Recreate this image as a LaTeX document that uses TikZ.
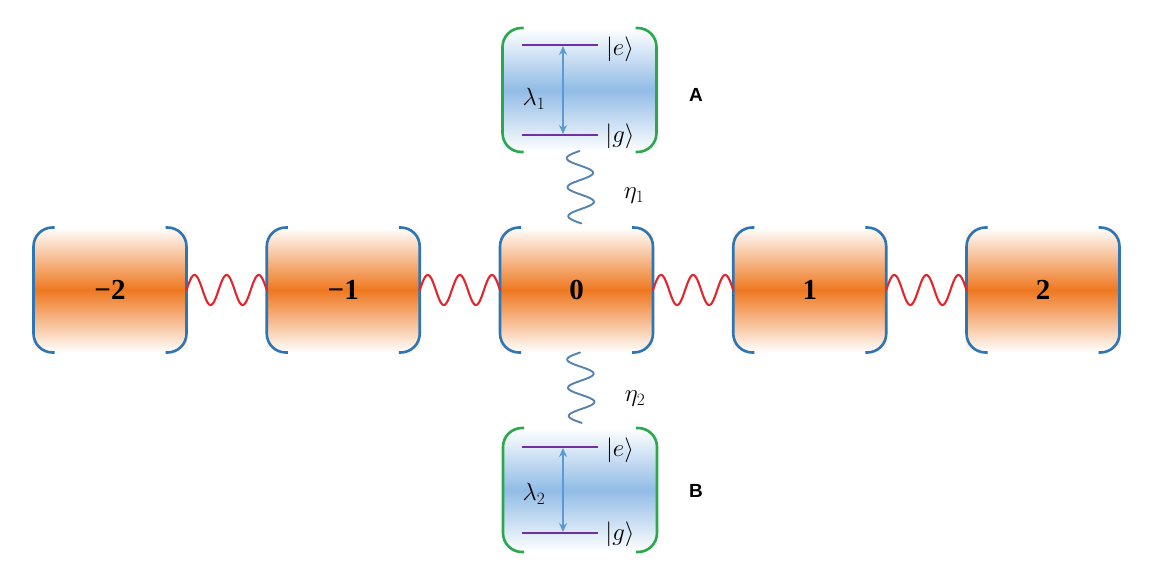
\documentclass[tikz,border=0pt]{standalone}
\usepackage{fontspec}
\setmainfont{Liberation Serif}
\newfontfamily\labsf{Liberation Sans}
\usetikzlibrary{arrows.meta,calc}
\definecolor{cavorange}{RGB}{238,120,32}
\definecolor{cavblue}{RGB}{46,117,182}
\definecolor{springred}{RGB}{226,38,44}
\definecolor{atomgreen}{RGB}{44,168,76}
\definecolor{atomblue}{RGB}{145,188,230}
\definecolor{levelpurple}{RGB}{112,48,160}
\definecolor{arrowblue}{RGB}{91,155,213}
\definecolor{vspringblue}{RGB}{85,130,175}
\tikzset{
  cav/.style={rectangle, inner sep=0pt, outer sep=0pt, minimum width=153pt, minimum height=125pt,
    top color=white, bottom color=white, middle color=cavorange,
    font=\fontsize{29}{33}\selectfont\bfseries},
  atombox/.style={rectangle, inner sep=0pt, outer sep=0pt, minimum width=154pt, minimum height=124pt,
    top color=white, bottom color=white, middle color=atomblue},
  cavbr/.style={draw=cavblue, line width=2.6pt, rounded corners=19pt},
  atombr/.style={draw=atomgreen, line width=2.6pt, rounded corners=19pt},
  hspr/.style={draw=springred, line width=2.1pt, line cap=round,
    to path={let \p1=(\tikztostart), \p2=(\tikztotarget) in
      -- plot[domain=0:1, samples=120, variable=\t, smooth]
      ({\x1+(\x2-\x1)*\t}, {\y1+(\y2-\y1)*\t+15*sin(900*\t)})}},
  vspr/.style={draw=vspringblue, line width=1.9pt, line cap=round,
    to path={let \p1=(\tikztostart), \p2=(\tikztotarget) in
      -- plot[domain=0:1, samples=120, variable=\t, smooth]
      ({\x1+(\x2-\x1)*\t-13*sin(900*\t)}, {\y1+(\y2-\y1)*\t})}},
  level/.style={draw=levelpurple, line width=2.2pt},
  trans/.style={draw=arrowblue, line width=2pt, {Stealth[length=9pt,width=8pt]}-{Stealth[length=9pt,width=8pt]}},
  mlabel/.style={inner sep=0pt, font=\fontsize{25}{29}\selectfont},
  letter/.style={inner sep=0pt, font=\labsf\fontsize{19}{22}\selectfont\bfseries},
}
\begin{document}
\begin{tikzpicture}[x=1pt,y=1pt]
\useasboundingbox (0,0) rectangle (1152,-573);
% cavities
\node[cav] (cm2) at (110,-290) {−2};
\node[cav] (cm1) at (343.25,-290) {−1};
\node[cav] (c0) at (576.5,-290) {0};
\node[cav] (c1) at (809.75,-290) {1};
\node[cav] (c2) at (1043,-290) {2};
\foreach \n in {cm2,cm1,c0,c1,c2}{
  \draw[cavbr] ([xshift=21pt]\n.north west) -- (\n.north west) -- (\n.south west) -- ([xshift=21pt]\n.south west);
  \draw[cavbr] ([xshift=-21pt]\n.north east) -- (\n.north east) -- (\n.south east) -- ([xshift=-21pt]\n.south east);
}
% springs between cavities
\draw[hspr] (cm2.east) to (cm1.west);
\draw[hspr] (cm1.east) to (c0.west);
\draw[hspr] (c0.east) to (c1.west);
\draw[hspr] (c1.east) to (c2.west);
% atoms
\node[atombox] (aA) at (579.5,-90) {};
\node[atombox] (aB) at (580,-490) {};
\foreach \n in {aA,aB}{
  \draw[atombr] ([xshift=21pt]\n.north west) -- (\n.north west) -- (\n.south west) -- ([xshift=21pt]\n.south west);
  \draw[atombr] ([xshift=-21pt]\n.north east) -- (\n.north east) -- (\n.south east) -- ([xshift=-21pt]\n.south east);
}
% atom A levels
\coordinate (eAl) at (522,-45); \coordinate (eAr) at (598,-45);
\coordinate (gAl) at (522,-135); \coordinate (gAr) at (598,-135);
\draw[level] (eAl) -- (eAr);
\draw[level] (gAl) -- (gAr);
\coordinate (eAm) at (563,-46); \coordinate (gAm) at (563,-134);
\draw[trans] (eAm) -- (gAm);
\node[mlabel] (keA) at (620,-49) {$|e\rangle$};
\node[mlabel] (kgA) at (620,-136) {$|g\rangle$};
\node[mlabel] (lamA) at (534,-99) {$\lambda_1$};
% atom B levels
\coordinate (eBl) at (522,-447); \coordinate (eBr) at (598,-447);
\coordinate (gBl) at (522,-533); \coordinate (gBr) at (598,-533);
\draw[level] (eBl) -- (eBr);
\draw[level] (gBl) -- (gBr);
\coordinate (eBm) at (563,-448); \coordinate (gBm) at (563,-532);
\draw[trans] (eBm) -- (gBm);
\node[mlabel] (keB) at (620,-450) {$|e\rangle$};
\node[mlabel] (kgB) at (620,-534) {$|g\rangle$};
\node[mlabel] (lamB) at (534,-494) {$\lambda_2$};
% labels A, B
\node[letter] (labA) at (696,-95) {A};
\node[letter] (labB) at (696,-491) {B};
% vertical springs
\draw[vspr] ([yshift=1pt]aA.south) to ([xshift=5pt,yshift=4pt]c0.north);
\draw[vspr] ([xshift=3.5pt]c0.south) to ([xshift=2pt,yshift=5pt]aB.north);
\node[mlabel] (eta1) at (634,-196) {$\eta_1$};
\node[mlabel] (eta2) at (635,-399) {$\eta_2$};
\end{tikzpicture}
\end{document}
